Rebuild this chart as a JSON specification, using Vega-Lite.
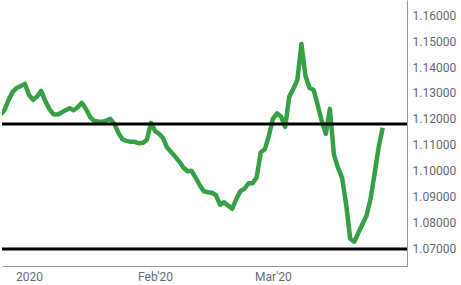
{
  "$schema": "https://vega.github.io/schema/vega-lite/v6.json",
  "width": 405,
  "height": 266,
  "padding": 0,
  "background": "white",
  "config": {"view": {"stroke": null}, "font": "Roboto"},
  "encoding": {
    "y": {
      "field": "rate", "type": "quantitative",
      "scale": {"domain": [1.06346, 1.16577], "nice": false, "zero": false},
      "axis": {
        "orient": "right", "title": null,
        "values": [1.07, 1.08, 1.09, 1.1, 1.11, 1.12, 1.13, 1.14, 1.15, 1.16],
        "format": ".5f",
        "ticks": false, "grid": false,
        "domainColor": "#999999", "domainWidth": 1,
        "labelColor": "#666a73", "labelFontSize": 12, "labelPadding": 5,
        "labelFont": "Roboto", "labelOverlap": false, "labelBound": false, "labelFlush": false
      }
    }
  },
  "layer": [
    {
      "data": {"values": [
        {"date": "2019-12-25", "rate": 1.12159},
        {"date": "2019-12-26", "rate": 1.12351},
        {"date": "2019-12-27", "rate": 1.12735},
        {"date": "2019-12-28", "rate": 1.13043},
        {"date": "2019-12-29", "rate": 1.13196},
        {"date": "2019-12-30", "rate": 1.13273},
        {"date": "2019-12-31", "rate": 1.13350},
        {"date": "2020-01-01", "rate": 1.12927},
        {"date": "2020-01-02", "rate": 1.12735},
        {"date": "2020-01-03", "rate": 1.12866},
        {"date": "2020-01-04", "rate": 1.13081},
        {"date": "2020-01-05", "rate": 1.12697},
        {"date": "2020-01-06", "rate": 1.12390},
        {"date": "2020-01-07", "rate": 1.12186},
        {"date": "2020-01-08", "rate": 1.12169},
        {"date": "2020-01-09", "rate": 1.12245},
        {"date": "2020-01-10", "rate": 1.12340},
        {"date": "2020-01-11", "rate": 1.12416},
        {"date": "2020-01-12", "rate": 1.12336},
        {"date": "2020-01-13", "rate": 1.12455},
        {"date": "2020-01-14", "rate": 1.12620},
        {"date": "2020-01-15", "rate": 1.12397},
        {"date": "2020-01-16", "rate": 1.12082},
        {"date": "2020-01-17", "rate": 1.11929},
        {"date": "2020-01-18", "rate": 1.11902},
        {"date": "2020-01-19", "rate": 1.11890},
        {"date": "2020-01-20", "rate": 1.11932},
        {"date": "2020-01-21", "rate": 1.12005},
        {"date": "2020-01-22", "rate": 1.11813},
        {"date": "2020-01-23", "rate": 1.11468},
        {"date": "2020-01-24", "rate": 1.11218},
        {"date": "2020-01-25", "rate": 1.11160},
        {"date": "2020-01-26", "rate": 1.11122},
        {"date": "2020-01-27", "rate": 1.11122},
        {"date": "2020-01-28", "rate": 1.11064},
        {"date": "2020-01-29", "rate": 1.11083},
        {"date": "2020-01-30", "rate": 1.11199},
        {"date": "2020-01-31", "rate": 1.11852},
        {"date": "2020-02-01", "rate": 1.11544},
        {"date": "2020-02-02", "rate": 1.11429},
        {"date": "2020-02-03", "rate": 1.11256},
        {"date": "2020-02-04", "rate": 1.10891},
        {"date": "2020-02-05", "rate": 1.10718},
        {"date": "2020-02-06", "rate": 1.10546},
        {"date": "2020-02-07", "rate": 1.10353},
        {"date": "2020-02-08", "rate": 1.10123},
        {"date": "2020-02-09", "rate": 1.09988},
        {"date": "2020-02-10", "rate": 1.10008},
        {"date": "2020-02-11", "rate": 1.09739},
        {"date": "2020-02-12", "rate": 1.09451},
        {"date": "2020-02-13", "rate": 1.09220},
        {"date": "2020-02-14", "rate": 1.09182},
        {"date": "2020-02-15", "rate": 1.09163},
        {"date": "2020-02-16", "rate": 1.09066},
        {"date": "2020-02-17", "rate": 1.08702},
        {"date": "2020-02-18", "rate": 1.08798},
        {"date": "2020-02-19", "rate": 1.08667},
        {"date": "2020-02-20", "rate": 1.08548},
        {"date": "2020-02-21", "rate": 1.08932},
        {"date": "2020-02-22", "rate": 1.09224},
        {"date": "2020-02-23", "rate": 1.09316},
        {"date": "2020-02-24", "rate": 1.09527},
        {"date": "2020-02-25", "rate": 1.09524},
        {"date": "2020-02-26", "rate": 1.09758},
        {"date": "2020-02-27", "rate": 1.10722},
        {"date": "2020-02-28", "rate": 1.10834},
        {"date": "2020-02-29", "rate": 1.11352},
        {"date": "2020-03-01", "rate": 1.12017},
        {"date": "2020-03-02", "rate": 1.12217},
        {"date": "2020-03-03", "rate": 1.12090},
        {"date": "2020-03-04", "rate": 1.11698},
        {"date": "2020-03-05", "rate": 1.12851},
        {"date": "2020-03-06", "rate": 1.13158},
        {"date": "2020-03-07", "rate": 1.13504},
        {"date": "2020-03-08", "rate": 1.14887},
        {"date": "2020-03-09", "rate": 1.13657},
        {"date": "2020-03-10", "rate": 1.13196},
        {"date": "2020-03-11", "rate": 1.13119},
        {"date": "2020-03-12", "rate": 1.12536},
        {"date": "2020-03-13", "rate": 1.11921},
        {"date": "2020-03-14", "rate": 1.11429},
        {"date": "2020-03-15", "rate": 1.12390},
        {"date": "2020-03-16", "rate": 1.10622},
        {"date": "2020-03-17", "rate": 1.10123},
        {"date": "2020-03-18", "rate": 1.09739},
        {"date": "2020-03-19", "rate": 1.08702},
        {"date": "2020-03-20", "rate": 1.07395},
        {"date": "2020-03-21", "rate": 1.07280},
        {"date": "2020-03-22", "rate": 1.07626},
        {"date": "2020-03-23", "rate": 1.07952},
        {"date": "2020-03-24", "rate": 1.08279},
        {"date": "2020-03-25", "rate": 1.08932},
        {"date": "2020-03-26", "rate": 1.09912},
        {"date": "2020-03-27", "rate": 1.10930},
        {"date": "2020-03-28", "rate": 1.11660}
      ]},
      "mark": {"type": "line", "color": "#37a047", "strokeWidth": 4.5, "strokeJoin": "round", "clip": true},
      "encoding": {
        "x": {
          "field": "date", "type": "temporal",
          "scale": {"type": "utc", "domain": ["2019-12-25T09:00:00Z", "2020-04-02T23:00:00Z"]},
          "axis": {
            "title": null,
            "values": [
              {"year": 2020, "month": 1, "date": 1, "utc": true},
              {"year": 2020, "month": 2, "date": 1, "utc": true},
              {"year": 2020, "month": 3, "date": 1, "utc": true}
            ],
            "labelExpr": "utcmonth(datum.value) == 0 ? utcFormat(datum.value, '%Y') : utcFormat(datum.value, \"%b'%y\")",
            "ticks": false, "grid": false,
            "domainColor": "#999999", "domainWidth": 1,
            "labelColor": "#666a73", "labelFontSize": 12, "labelPadding": 5,
            "labelFont": "Roboto", "labelOverlap": false
          }
        }
      }
    },
    {
      "data": {"values": [{"rate": 1.1181}, {"rate": 1.07}]},
      "mark": {"type": "rule", "color": "#000000", "strokeWidth": 3},
      "encoding": {}
    }
  ]
}
